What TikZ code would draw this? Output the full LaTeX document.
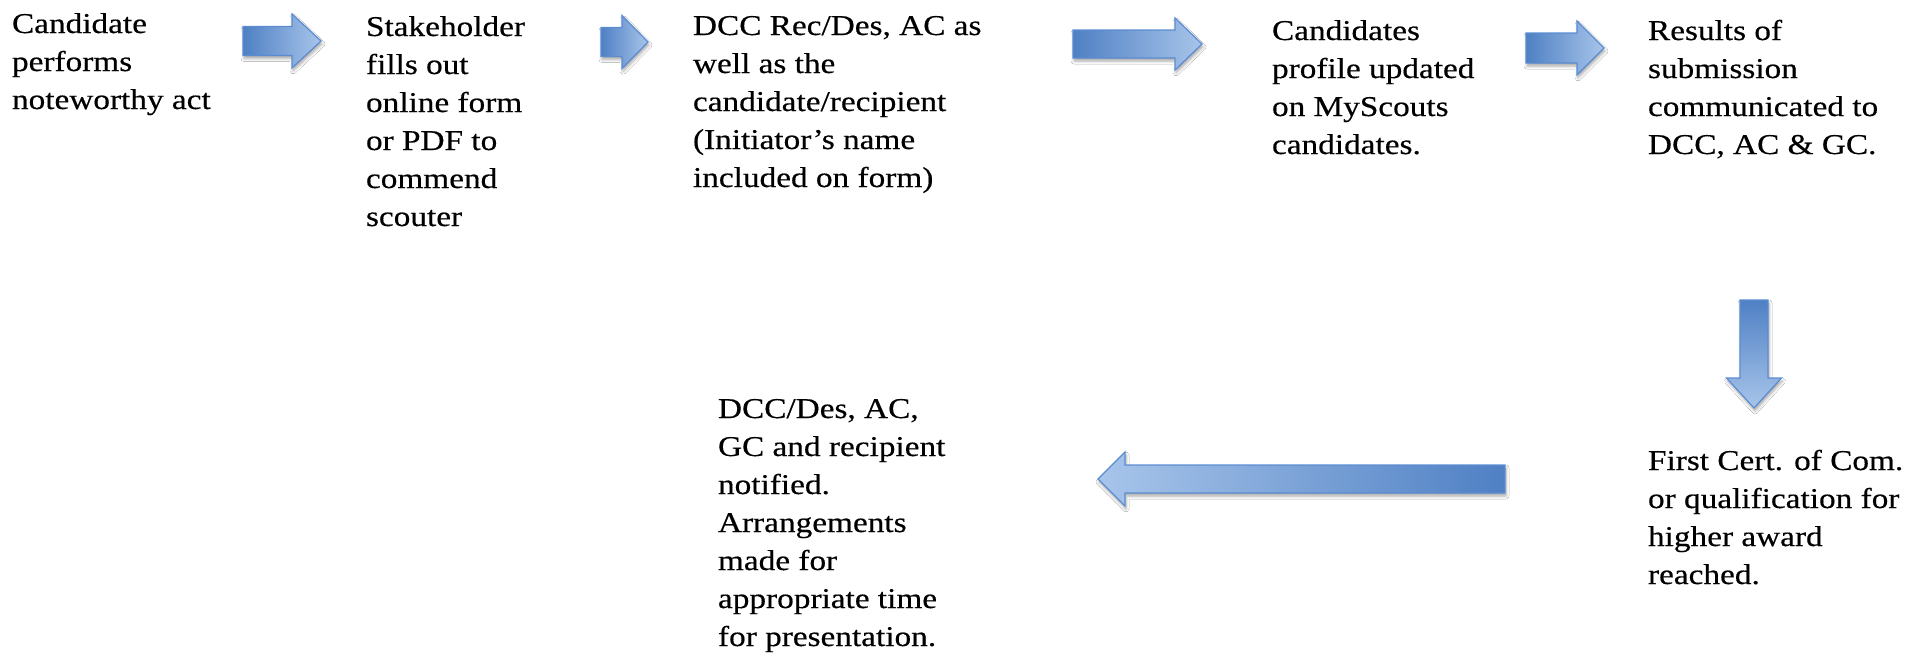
\documentclass[tikz,border=0pt]{standalone}
\usepackage{fontspec}
\setmainfont{Liberation Serif}[FakeStretch=1.16,FakeBold=0.4]
\usetikzlibrary{shadows.blur}
\definecolor{arrdark}{HTML}{4F80C4}
\definecolor{arrlight}{HTML}{A8C5EA}
\definecolor{arredge}{HTML}{5B8CD2}
\tikzset{
  txt/.style={anchor=base west, inner sep=0pt, outer sep=0pt, font=\fontsize{28.7}{38}\selectfont},
  blockarrow/.style={draw=arredge, line width=1.2pt, line join=miter,
    blur shadow={shadow xshift=1pt, shadow yshift=-3pt, shadow blur radius=3pt, shadow opacity=35}},
}
\newcommand\lns[1]{\begin{tabular}[t]{@{}l@{}}#1\end{tabular}}
% horizontal block arrow: tail x, head-base x, tip x, centre y, body half, head half, left colour, right colour
\newcommand\harrowshape[8]{%
  \path[blockarrow, left color=#7, right color=#8]
    ({#1},{#4-#5}) -- ({#2},{#4-#5}) -- ({#2},{#4-#6}) -- ({#3},{#4})
    -- ({#2},{#4+#6}) -- ({#2},{#4+#5}) -- ({#1},{#4+#5}) -- cycle;}
\begin{document}
\begin{tikzpicture}[x=1pt,y=-1pt]
\fill[white] (0,0) rectangle (1919,656);
\useasboundingbox (0,0) rectangle (1919,656);

\node[txt] (t1) at (12,33) {\lns{Candidate\\performs\\noteworthy act}};
\node[txt] (t2) at (366,36) {\lns{Stakeholder\\fills out\\online form\\or PDF to\\commend\\scouter}};
\node[txt] (t3) at (693,35) {\lns{DCC Rec/Des, AC as\\well as the\\candidate/recipient\\(Initiator’s name\\included on form)}};
\node[txt] (t4) at (1272,40) {\lns{Candidates\\profile updated\\on MyScouts\\candidates.}};
\node[txt] (t5) at (1648,40) {\lns{Results of\\submission\\communicated to\\DCC, AC \& GC.}};
\node[txt] (t6) at (1648,470) {\lns{First Cert. of Com.\\or qualification for\\higher award\\reached.}};
\node[txt] (t7) at (718,418) {\lns{DCC/Des, AC,\\GC and recipient\\notified.\\Arrangements\\made for\\appropriate time\\for presentation.}};

% right-pointing arrows
\harrowshape{243}{292}{321}{41}{14.5}{27}{arrdark}{arrlight}
\harrowshape{601}{622}{648}{42}{14.5}{26.5}{arrdark}{arrlight}
\harrowshape{1073}{1175}{1202}{44}{14}{26}{arrdark}{arrlight}
\harrowshape{1526}{1577}{1604}{48}{15}{27}{arrdark}{arrlight}
% left-pointing arrow
\harrowshape{1505}{1125}{1098}{479}{14}{27}{arrlight}{arrdark}
% down arrow
\path[blockarrow, top color=arrdark, bottom color=arrlight]
  (1740,300) -- (1768,300) -- (1768,378) -- (1781.5,378) -- (1754,408)
  -- (1726.5,378) -- (1740,378) -- cycle;
\end{tikzpicture}
\end{document}
